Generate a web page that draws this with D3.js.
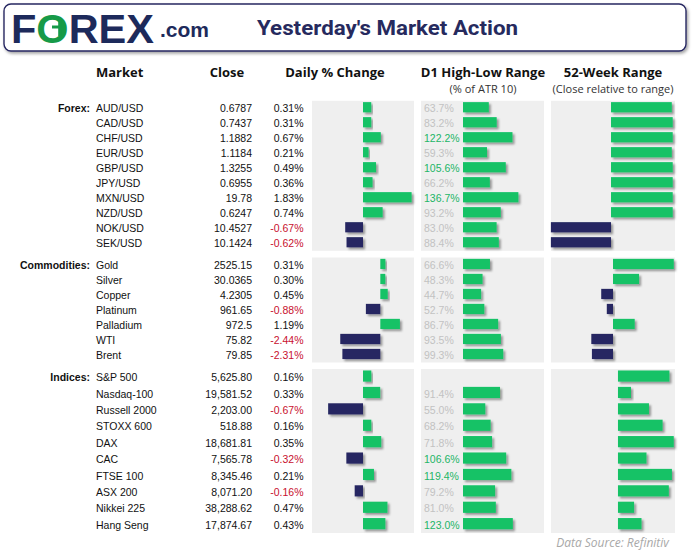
<!DOCTYPE html>
<html><head><meta charset="utf-8">
<script src="https://cdn.jsdelivr.net/npm/d3@7"></script>
<style>
html,body{margin:0;padding:0;background:#fff;}
svg{display:block;}
</style></head>
<body>
<script>
// ---------- DATA ----------
const sectionNames = ["Forex:", "Commodities:", "Indices:"];

const forexMarkets = ["AUD/USD","CAD/USD","CHF/USD","EUR/USD","GBP/USD","JPY/USD","MXN/USD","NZD/USD","NOK/USD","SEK/USD"];
const forexClose   = ["0.6787","0.7437","1.1882","1.1184","1.3255","0.6955","19.78","0.6247","10.4527","10.1424"];
const forexDaily   = [0.31,0.31,0.67,0.21,0.49,0.36,1.83,0.74,-0.67,-0.62];
const forexRange   = [63.7,83.2,122.2,59.3,105.6,66.2,136.7,93.2,83.0,88.4];
const forex52w     = [98,99.5,99.5,98,99.5,99.5,99.5,99.5,-97,-97];

const commMarkets = ["Gold","Silver","Copper","Platinum","Palladium","WTI","Brent"];
const commClose   = ["2525.15","30.0365","4.2305","961.65","972.5","75.82","79.85"];
const commDaily   = [0.31,0.30,0.45,-0.88,1.19,-2.44,-2.31];
const commRange   = [66.6,48.3,44.7,52.7,86.7,93.5,99.3];
const comm52w     = [98,42,-19,-10,35,-35,-34];

const idxMarkets = ["S&P 500","Nasdaq-100","Russell 2000","STOXX 600","DAX","CAC","FTSE 100","ASX 200","Nikkei 225","Hang Seng"];
const idxClose   = ["5,625.80","19,581.52","2,203.00","518.88","18,681.81","7,565.78","8,345.46","8,071.20","38,288.62","17,874.67"];
const idxDaily   = [0.16,0.33,-0.67,0.16,0.35,-0.32,0.21,-0.16,0.47,0.43];
const idxRange   = [null,91.4,55.0,68.2,71.8,106.6,119.4,79.2,81.0,123.0];
const idx52w     = [83,21,50,72,90,46,87,82,26,38];

// per-section scale domains (data-bar scaling)
const dailyDomains = [[-1.92,1.92],[-4.16,2.05],[-0.98,0.98]];
const rangeDomain  = [0,200];
const w52Domains   = [[-96.8,103.2],[-100,100],[-108,92]];

const headers = ["Market","Close","Daily % Change","D1 High-Low Range","52-Week Range"];
const subHeaders = ["(% of ATR 10)","(Close relative to range)"];
const title = "Yesterday's Market Action";
const source = "Data Source: Refinitiv";

// ---------- LAYOUT ----------
const W = 694, H = 556;
const GREEN = "#13c266", NAVY = "#272862", PANEL = "#efefef", RED = "#c8102e";
const sections = [
  {name: sectionNames[0], markets: forexMarkets, close: forexClose, daily: forexDaily, range: forexRange, w52: forex52w, y0: 100.8, y1: 250.8},
  {name: sectionNames[1], markets: commMarkets, close: commClose, daily: commDaily, range: commRange, w52: comm52w, y0: 257.5, y1: 362.5},
  {name: sectionNames[2], markets: idxMarkets, close: idxClose, daily: idxDaily, range: idxRange, w52: idx52w, y0: 369.0, y1: 533.0}
];
const dailyX = [312, 414], rangePanel = [421, 544], rangeBarX = [463, 544], w52X = [551, 675];
const fmtPct = v => (v < 0 ? "-" : "") + Math.abs(v).toFixed(2) + "%";

const svg = d3.select("body").append("svg").attr("width", W).attr("height", H);
const defs = svg.append("defs");
const f = defs.append("filter").attr("id","sh").attr("x","-10%").attr("y","-30%").attr("width","130%").attr("height","190%");
f.append("feDropShadow").attr("dx",2).attr("dy",2).attr("stdDeviation",1.1).attr("flood-color","#000").attr("flood-opacity",0.38);
const f2 = defs.append("filter").attr("id","sh2").attr("x","-5%").attr("y","-20%").attr("width","110%").attr("height","150%");
f2.append("feDropShadow").attr("dx",1.5).attr("dy",2).attr("stdDeviation",1.5).attr("flood-color","#000").attr("flood-opacity",0.35);

// ---------- HEADER BOX ----------
svg.append("rect").attr("x",4).attr("y",4).attr("width",682).attr("height",47).attr("rx",7)
  .attr("fill","#fff").attr("stroke",NAVY).attr("stroke-width",1.4).attr("filter","url(#sh2)");

const logo = svg.append("text").attr("x",11).attr("y",42.5)
  .attr("font-family","Liberation Sans, Arial, sans-serif").attr("font-weight",900).attr("font-size",41.5)
  .attr("fill","#1d2a5b");
logo.append("tspan").text("F");
logo.append("tspan").attr("fill","#169a48").text("O");
logo.append("tspan").text("REX");
// inner mark of the green O
svg.append("rect").attr("x",58.2).attr("y",19).attr("width",3.6).attr("height",17).attr("fill","#169a48");
svg.append("rect").attr("x",52).attr("y",25.5).attr("width",8).attr("height",3).attr("fill","#169a48");
svg.append("text").attr("x",160).attr("y",36.5)
  .attr("font-family","Liberation Sans, Arial, sans-serif").attr("font-weight",700).attr("font-size",21)
  .attr("fill","#1d2a5b").text(".com");

svg.append("text").attr("x",257).attr("y",35)
  .attr("font-family","Roboto, Liberation Sans, sans-serif").attr("font-weight",700).attr("font-size",21)
  .attr("textLength",261).attr("lengthAdjust","spacingAndGlyphs")
  .attr("fill","#262a5e").text(title);

// ---------- COLUMN HEADERS ----------
const hdrFont = "Open Sans, Liberation Sans, sans-serif";
const hdrPos = [{x:96,a:"start"},{x:227,a:"middle"},{x:335,a:"middle"},{x:483,a:"middle"},{x:613,a:"middle"}];
headers.forEach((h,i)=>{
  svg.append("text").attr("x",hdrPos[i].x).attr("y",77).attr("text-anchor",hdrPos[i].a)
    .attr("font-family",hdrFont).attr("font-weight",700).attr("font-size",13).attr("fill","#111").text(h);
});
[483,613].forEach((x,i)=>{
  svg.append("text").attr("x",x).attr("y",93).attr("text-anchor","middle")
    .attr("font-family",hdrFont).attr("font-size",11).attr("fill","#333").text(subHeaders[i]);
});

// ---------- SECTIONS ----------
const rowFont = "Liberation Sans, Arial, sans-serif";
const xRange = d3.scaleLinear().domain(rangeDomain).range(rangeBarX);

sections.forEach((s, si)=>{
  const y = d3.scaleBand().domain(s.markets).range([s.y0, s.y1]);
  const bw = y.bandwidth();
  const cy = m => y(m) + bw/2;
  const barY = m => y(m) + bw*0.09;
  const barH = bw*0.68;
  const xDaily = d3.scaleLinear().domain(dailyDomains[si]).range(dailyX);
  const x52 = d3.scaleLinear().domain(w52Domains[si]).range(w52X);
  const g = svg.append("g");

  // panels
  g.append("rect").attr("x",dailyX[0]).attr("y",s.y0).attr("width",dailyX[1]-dailyX[0]).attr("height",s.y1-s.y0).attr("fill",PANEL);
  g.append("rect").attr("x",rangePanel[0]).attr("y",s.y0).attr("width",rangePanel[1]-rangePanel[0]).attr("height",s.y1-s.y0).attr("fill",PANEL);
  g.append("rect").attr("x",w52X[0]).attr("y",s.y0).attr("width",w52X[1]-w52X[0]).attr("height",s.y1-s.y0).attr("fill",PANEL);

  // section label
  g.append("text").attr("x",90).attr("y",cy(s.markets[0])+4).attr("text-anchor","end")
    .attr("font-family",rowFont).attr("font-weight",700).attr("font-size",10.5).attr("fill","#111").text(s.name);

  const rows = s.markets.map((m,i)=>({m, close:s.close[i], d:s.daily[i], r:s.range[i], w:s.w52[i]}));

  // market names
  g.selectAll(null).data(rows).enter().append("text")
    .attr("x",96).attr("y",d=>cy(d.m)+4).attr("font-family",rowFont).attr("font-size",10.5).attr("fill","#111").text(d=>d.m);
  // close
  g.selectAll(null).data(rows).enter().append("text")
    .attr("x",252).attr("y",d=>cy(d.m)+4).attr("text-anchor","end").attr("font-family",rowFont).attr("font-size",10.5).attr("fill","#111").text(d=>d.close);
  // daily %
  g.selectAll(null).data(rows).enter().append("text")
    .attr("x",303.5).attr("y",d=>cy(d.m)+4).attr("text-anchor","end").attr("font-family",rowFont).attr("font-size",10.5)
    .attr("fill",d=>d.d<0?RED:"#111").text(d=>fmtPct(d.d));

  // daily bars
  g.selectAll(null).data(rows).enter().append("rect")
    .attr("x",d=>Math.min(xDaily(0),xDaily(d.d))).attr("y",d=>barY(d.m))
    .attr("width",d=>Math.abs(xDaily(d.d)-xDaily(0))).attr("height",barH)
    .attr("fill",d=>d.d<0?NAVY:GREEN).attr("filter","url(#sh)");

  // range labels + bars
  const rr = rows.filter(d=>d.r!=null);
  g.selectAll(null).data(rr).enter().append("text")
    .attr("x",424).attr("y",d=>cy(d.m)+4).attr("font-family",rowFont).attr("font-size",10.5)
    .attr("fill",d=>d.r>100?"#22b566":"#c2c2c2").text(d=>d.r.toFixed(1)+"%");
  g.selectAll(null).data(rr).enter().append("rect")
    .attr("x",xRange(0)).attr("y",d=>barY(d.m)).attr("width",d=>xRange(d.r)-xRange(0)).attr("height",barH)
    .attr("fill",GREEN).attr("filter","url(#sh)");

  // 52-week bars
  g.selectAll(null).data(rows).enter().append("rect")
    .attr("x",d=>Math.min(x52(0),x52(d.w))).attr("y",d=>barY(d.m))
    .attr("width",d=>Math.abs(x52(d.w)-x52(0))).attr("height",barH)
    .attr("fill",d=>d.w<0?NAVY:GREEN).attr("filter","url(#sh)");
});

svg.append("text").attr("x",612.5).attr("y",546.5).attr("text-anchor","middle")
  .attr("font-family","Open Sans, sans-serif").attr("font-style","italic").attr("font-size",12)
  .attr("fill","#a8a8a8").text(source);
</script>
</body></html>
